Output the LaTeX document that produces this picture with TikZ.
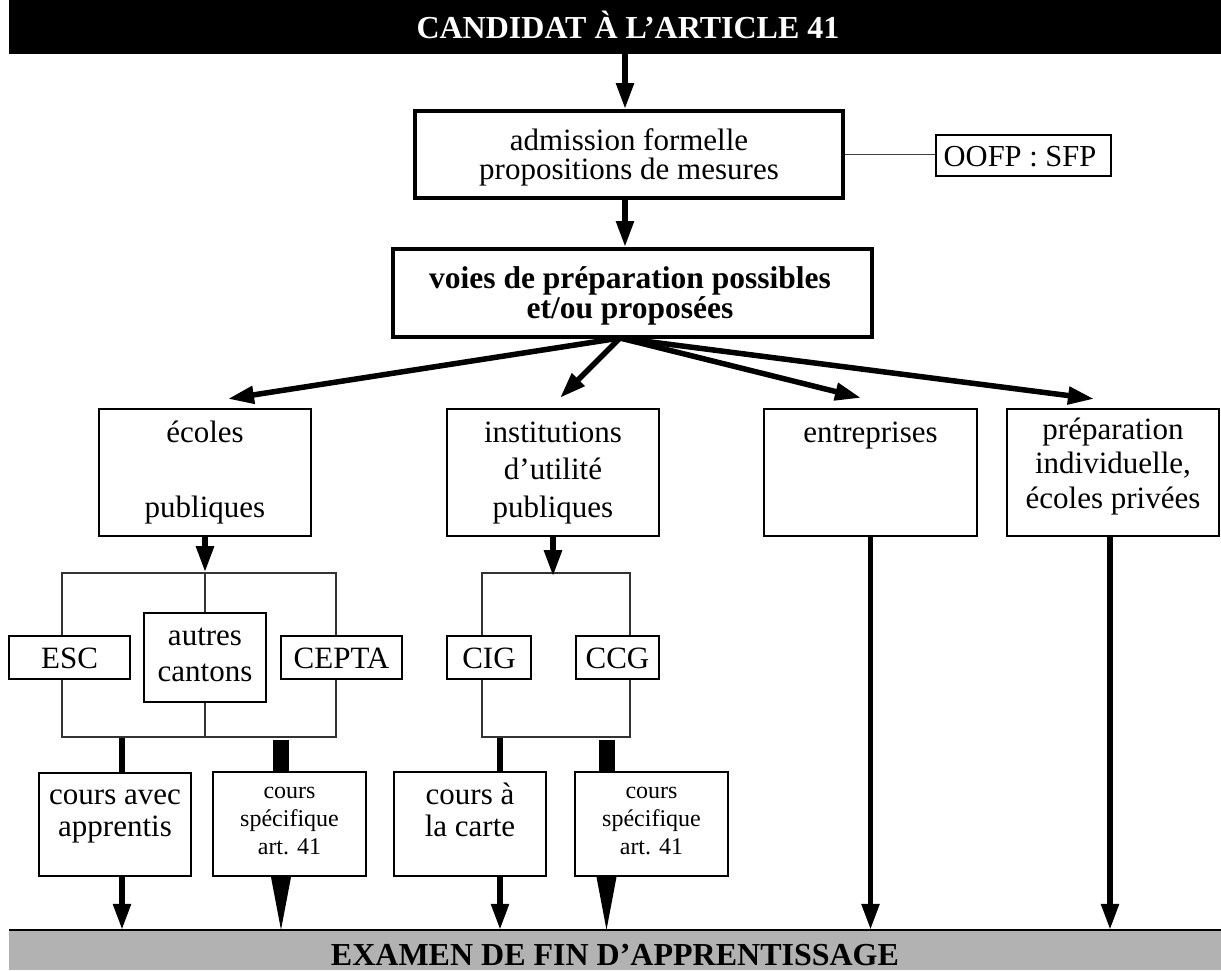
\documentclass[tikz,border=0pt]{standalone}
\usepackage{fontspec}
\setmainfont{Liberation Serif}
\usetikzlibrary{arrows.meta,calc}
% font size / baseline skip in points
\newcommand\fsz[2]{\fontsize{#1pt}{#2pt}\selectfont}
% fixed-height strut so the top of a text block sits at a known distance above its first baseline
\newcommand\bxstrut{\rule{0pt}{0.8em}}

\begin{document}
\begin{tikzpicture}[x=1pt, y=-1pt,
  heavy/.style={draw, fill=white, line width=4pt, inner sep=0pt},
  frame/.style={draw, fill=white, line width=2.3pt, inner sep=0pt},
  small/.style={draw, fill=white, line width=2.2pt, inner sep=0pt},
  slim/.style={draw, fill=white, line width=1.6pt, inner sep=0pt},
  bracketbox/.style={draw=black!80, line width=1.6pt, inner sep=0pt},
  txt/.style={inner sep=0pt, align=center},
  flow/.style={line width=5.5pt, -{Triangle[width=17pt,length=26pt]}},
  feed/.style={line width=5.5pt},
  heavyfeed/.style={line width=16pt},
  link/.style={draw=black!75, line width=1.6pt}]

\useasboundingbox (0,0) rectangle (1221,970);

% ---- header bar ----
\node[fill=black, minimum width=1212pt, minimum height=54pt, inner sep=0pt] (top) at (615,27) {};
\node[txt, anchor=base, text=white, font=\fsz{32}{36}\bfseries] (toptext) at (628,38.5) {CANDIDAT À L’ARTICLE 41};

% ---- admission ----
\node[heavy, minimum width=428pt, minimum height=87pt] (adm) at (629,154.5) {};
\node[txt, anchor=north, font=\fsz{31}{29.5}] (admtext) at ($(adm.north)+(0,16)$)
  {\bxstrut admission formelle\\propositions de mesures};

\node[slim, minimum width=175pt, minimum height=41pt] (oofp) at (1023.5,155.5) {};
\node[txt, anchor=base, font=\fsz{30.5}{34}] (oofptext) at (1020,166.7) {OOFP : SFP};

% ---- preparation paths ----
\node[heavy, minimum width=479pt, minimum height=88pt] (voies) at (632.5,293) {};
\node[txt, anchor=north, font=\fsz{31.5}{30}\bfseries] (voiestext) at ($(voies.north)+(-2.5,15.8)$)
  {\bxstrut voies de préparation possibles\\et/ou proposées};

% ---- four providers ----
\node[frame, minimum width=212pt, minimum height=127pt] (ecoles) at (205,472.5) {};
\node[txt, anchor=north, font=\fsz{31}{37.5}] (ecolestext) at ($(ecoles.north)+(0,9.2)$)
  {\bxstrut écoles\\\mbox{}\\publiques};

\node[frame, minimum width=212pt, minimum height=127pt] (inst) at (553,472.5) {};
\node[txt, anchor=north, font=\fsz{31}{37.5}] (insttext) at ($(inst.north)+(0,9.2)$)
  {\bxstrut institutions\\d’utilité\\publiques};

\node[frame, minimum width=213pt, minimum height=127pt] (entr) at (870.5,472.5) {};
\node[txt, anchor=north, font=\fsz{31}{37.5}] (entrtext) at ($(entr.north)+(0,9.2)$)
  {\bxstrut entreprises};

\node[frame, minimum width=212pt, minimum height=127pt] (prep) at (1113,472.5) {};
\node[txt, anchor=north, font=\fsz{31}{34.5}] (preptext) at ($(prep.north)+(0,6.2)$)
  {\bxstrut préparation\\individuelle,\\écoles privées};

% ---- school brackets ----
\node[bracketbox, minimum width=274pt, minimum height=164pt] (br1) at (199,655) {};
\node[bracketbox, minimum width=148pt, minimum height=164pt] (br2) at (556,655) {};
\draw[bracketbox] (ecoles.south |- br1.north) -- (ecoles.south |- br1.south);

\node[small, minimum width=121pt, minimum height=43pt] (esc) at (69.5,657.5) {};
\node[txt, anchor=base, font=\fsz{31}{36}] (esctext) at ($(esc.center)+(0,10.5)$) {ESC};

\node[small, line width=2.5pt, minimum width=122pt, minimum height=89pt] (autres) at (205,657.5) {};
\node[txt, anchor=north, font=\fsz{31}{36}] (autrestext) at ($(autres.north)+(0,9.2)$)
  {\bxstrut autres\\cantons};

\node[small, minimum width=121pt, minimum height=43pt] (cepta) at (341.5,657.5) {};
\node[txt, anchor=base, font=\fsz{31}{36}] (ceptatext) at ($(cepta.center)+(0,10.5)$) {CEPTA};

\node[small, minimum width=84pt, minimum height=43pt] (cig) at (489,657.5) {};
\node[txt, anchor=base, font=\fsz{31}{36}] (cigtext) at ($(cig.center)+(0,10.5)$) {CIG};

\node[small, minimum width=83pt, minimum height=43pt] (ccg) at (617.5,657.5) {};
\node[txt, anchor=base, font=\fsz{31}{36}] (ccgtext) at ($(ccg.center)+(0,10.5)$) {CCG};

% ---- courses ----
\node[small, minimum width=152pt, minimum height=103pt] (cav) at (115,824.5) {};
\node[txt, anchor=north, font=\fsz{31}{32}] (cavtext) at ($(cav.north)+(0,7.2)$)
  {\bxstrut cours avec\\apprentis};

\node[small, minimum width=153pt, minimum height=104pt] (cs1) at (289.5,824) {};
\node[txt, anchor=north, font=\fsz{24}{28}] (cs1text) at ($(cs1.north)+(0,7.8)$)
  {\bxstrut cours\\spécifique\\art. 41};

\node[small, minimum width=152pt, minimum height=104pt] (cac) at (470,824) {};
\node[txt, anchor=north, font=\fsz{31}{32}] (cactext) at ($(cac.north)+(0,8.2)$)
  {\bxstrut cours à\\la carte};

\node[small, minimum width=153pt, minimum height=104pt] (cs2) at (651.5,824) {};
\node[txt, anchor=north, font=\fsz{24}{28}] (cs2text) at ($(cs2.north)+(0,7.8)$)
  {\bxstrut cours\\spécifique\\art. 41};

% ---- footer bar ----
\node[fill=black!30, minimum width=1212pt, minimum height=40pt, inner sep=0pt] (exam) at (615,950) {};
\draw[line width=2pt] (exam.north west) -- (exam.north east);
\node[txt, anchor=base, font=\fsz{32}{36}\bfseries] (examtext) at (615,965) {EXAMEN DE FIN D’APPRENTISSAGE};

% ---- connectors ----
\coordinate (spine) at (625,0);
\draw[flow] (spine |- top.south) -- (spine |- adm.north);
\draw[flow] (spine |- adm.south) -- (spine |- voies.north);
\draw[link] (adm.east) -- (adm.east -| oofp.west);

\coordinate (hub) at (620,338);
\coordinate (t1) at ($(ecoles.north)+(23,-9)$);
\coordinate (t2) at ($(inst.north)+(7,-10)$);
\coordinate (t3) at ($(entr.north)+(-9.5,-10)$);
\coordinate (t4) at ($(prep.north)+(-19,-9)$);
\draw[flow] (hub) -- (t1);
\draw[flow] (hub) -- (t2);
\draw[flow] (hub) -- (t3);
\draw[flow] (hub) -- (t4);

\draw[flow] (ecoles.south) -- (ecoles.south |- br1.north);
\draw[flow] (inst.south) -- ($(inst.south |- br2.north)+(0,4)$);

\coordinate (c1) at ($(cav.north)+(7,0)$);
\draw[feed] (c1 |- br1.south) -- (c1);
\draw[flow] (c1 |- cav.south) -- (c1 |- exam.north);

\coordinate (w1) at ($(cs1.north)+(-8.5,0)$);
\coordinate (w1b) at (w1 |- cs1.south);
\draw[heavyfeed] ($(w1 |- br1.south)+(0,2.5)$) -- (w1);
\fill ($(w1b)+(-10,0)$) -- ($(w1b)+(10,0)$) -- (w1 |- exam.north) -- cycle;

\coordinate (c2) at ($(cac.north)+(30,0)$);
\draw[feed] (c2 |- br2.south) -- (c2);
\draw[flow] (c2 |- cac.south) -- (c2 |- exam.north);

\coordinate (w2) at ($(cs2.north)+(-45,0)$);
\coordinate (w2b) at (w2 |- cs2.south);
\draw[heavyfeed] ($(w2 |- br2.south)+(0,2.5)$) -- (w2);
\fill ($(w2b)+(-10,0)$) -- ($(w2b)+(10,0)$) -- (w2 |- exam.north) -- cycle;

\draw[flow] (entr.south) -- (entr.south |- exam.north);
\coordinate (c4) at ($(prep.south)+(-3,0)$);
\draw[flow] (c4) -- (c4 |- exam.north);
\end{tikzpicture}
\end{document}
